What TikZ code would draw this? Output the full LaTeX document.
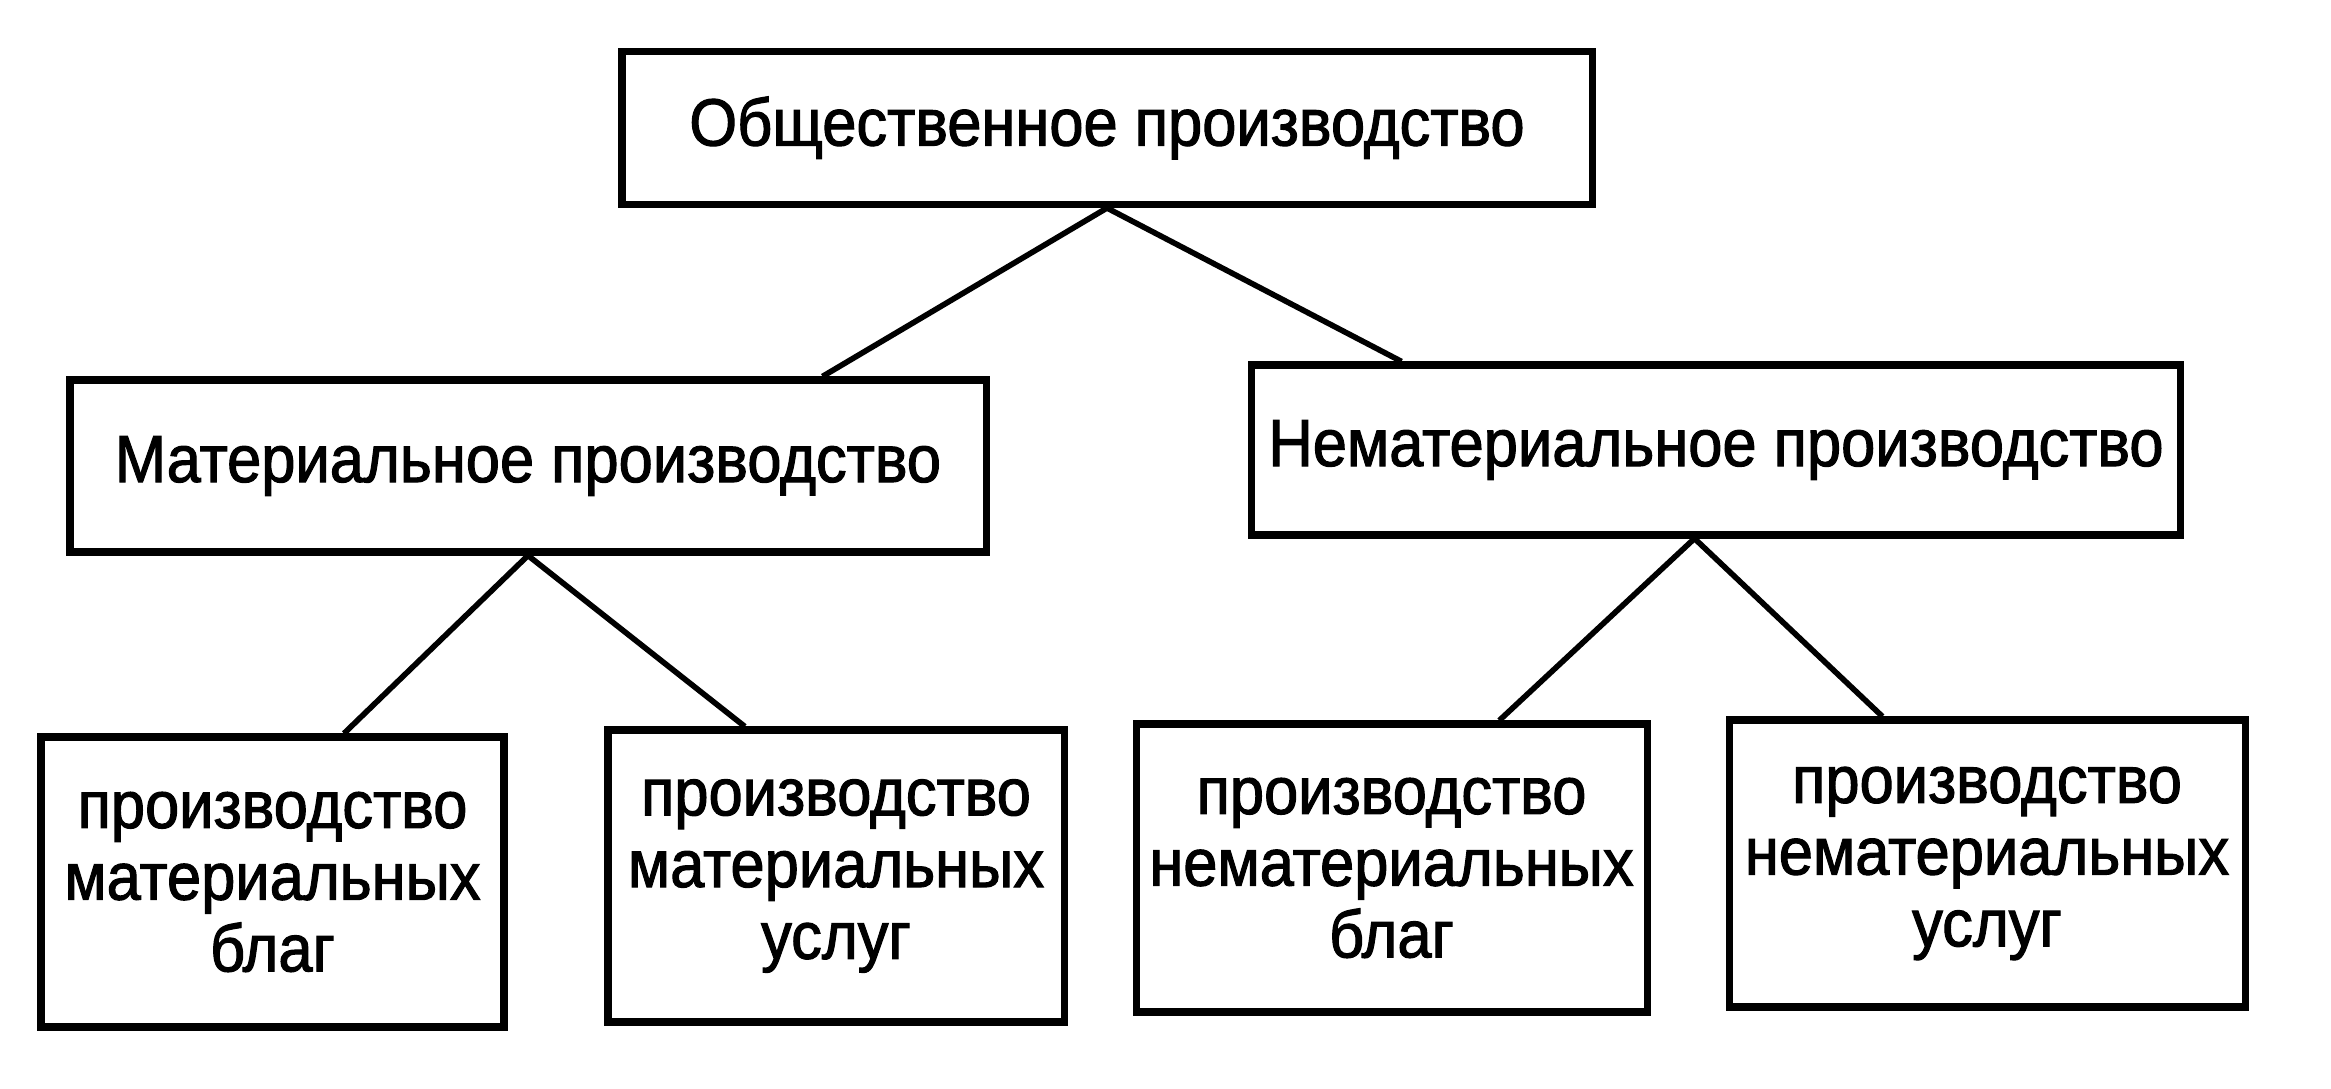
\documentclass[tikz,border=0pt]{standalone}
\usepackage{fontspec}
\setmainfont{Liberation Sans}[FakeStretch=0.92, FakeBold=1.6]
\usetikzlibrary{calc}
\tikzset{
  box/.style={draw=black, line width=2pt, rectangle, inner sep=0pt, align=center,
    font=\fontsize{19}{20.4}\selectfont},
  link/.style={draw=black, line width=1.6pt}
}
\begin{document}
\begin{tikzpicture}[x=0.01cm, y=-0.01cm]
\useasboundingbox (0,0) rectangle (2331,1089);
\node[box, minimum width=970*0.01cm, minimum height=153*0.01cm] (top) at (1107,128) {Общественное производство};
\node[box, minimum width=916*0.01cm, minimum height=172*0.01cm] (lm) at (528,466) {Материальное производство};
\node[box, minimum width=929*0.01cm, minimum height=170*0.01cm] (rm) at (1716,450) {Нематериальное производство};
\node[box, minimum width=463*0.01cm, minimum height=290*0.01cm] (b1) at (272.5,882) {производство\\материальных\\благ};
\node[box, minimum width=456*0.01cm, minimum height=292*0.01cm] (b2) at (836,876) {производство\\материальных\\услуг};
\node[box, minimum width=511*0.01cm, minimum height=288*0.01cm] (b3) at (1391.5,868) {производство\\нематериальных\\благ};
\node[box, minimum width=516*0.01cm, minimum height=287*0.01cm] (b4) at (1987,863.5) {производство\\нематериальных\\услуг};
\draw[link] (top.south) -- ($(lm.north west)!0.819!(lm.north east)$);
\draw[link] (top.south) -- ($(rm.north west)!0.164!(rm.north east)$);
\draw[link] (lm.south) -- ($(b1.north west)!0.652!(b1.north east)$);
\draw[link] (lm.south) -- ($(b2.north west)!0.303!(b2.north east)$);
\draw[link] ($(rm.south west)!0.477!(rm.south east)$) -- ($(b3.north west)!0.708!(b3.north east)$);
\draw[link] ($(rm.south west)!0.477!(rm.south east)$) -- ($(b4.north west)!0.30!(b4.north east)$);
\end{tikzpicture}
\end{document}
